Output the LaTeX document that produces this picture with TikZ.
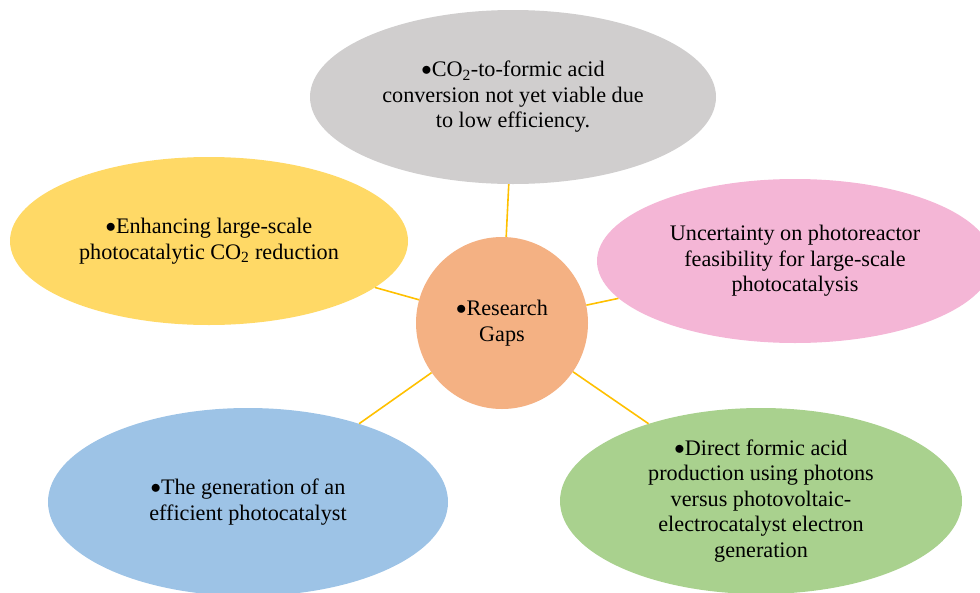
\documentclass[tikz,border=0pt]{standalone}
\usepackage{fontspec}
\setmainfont{Liberation Serif}
\usetikzlibrary{shapes.geometric}
\definecolor{cgray}{HTML}{D0CECE}
\definecolor{cyellow}{HTML}{FFD966}
\definecolor{cpink}{HTML}{F4B6D6}
\definecolor{corange}{HTML}{F4B183}
\definecolor{cblue}{HTML}{9DC3E6}
\definecolor{cgreen}{HTML}{A9D18E}
\definecolor{cline}{HTML}{FFC000}
\newcommand{\bul}{\raisebox{0.05em}{$\bullet$}}
\tikzset{
  bubble/.style={ellipse, inner sep=0pt, align=center,
    font=\fontsize{22.2}{25.5}\selectfont, text=black},
  link/.style={draw=cline, line width=1.6pt}
}
\begin{document}
\begin{tikzpicture}[x=1pt,y=-1pt]
\useasboundingbox (0,0) rectangle (980,592);
\node[bubble, fill=cgray, minimum width=406pt, minimum height=174pt] (g) at (513,97)
  {\bul CO\textsubscript{2}-to-formic acid\\conversion not yet viable due\\to low efficiency.};
\node[bubble, fill=cyellow, minimum width=398pt, minimum height=168pt] (y) at (209,241)
  {\bul Enhancing large-scale\\photocatalytic CO\textsubscript{2} reduction};
\node[bubble, fill=cpink, minimum width=396pt, minimum height=164pt] (p) at (795,261)
  {Uncertainty on photoreactor\\feasibility for large-scale\\photocatalysis};
\node[bubble, fill=cblue, minimum width=400pt, minimum height=188pt] (b) at (248,502)
  {\bul The generation of an\\efficient photocatalyst};
\node[bubble, fill=cgreen, minimum width=402pt, minimum height=186pt] (gr) at (761,501)
  {\bul Direct formic acid\\production using photons\\versus photovoltaic-\\electrocatalyst electron\\generation};
\node[circle, fill=corange, minimum size=172pt, inner sep=0pt, align=center,
  font=\fontsize{22.2}{25.5}\selectfont] (c) at (502,323) {\bul Research\\Gaps};
\draw[link] (c) -- (g);
\draw[link] (c) -- (y);
\draw[link] (c) -- (p);
\draw[link] (c) -- (b);
\draw[link] (c) -- (gr);
\end{tikzpicture}
\end{document}
